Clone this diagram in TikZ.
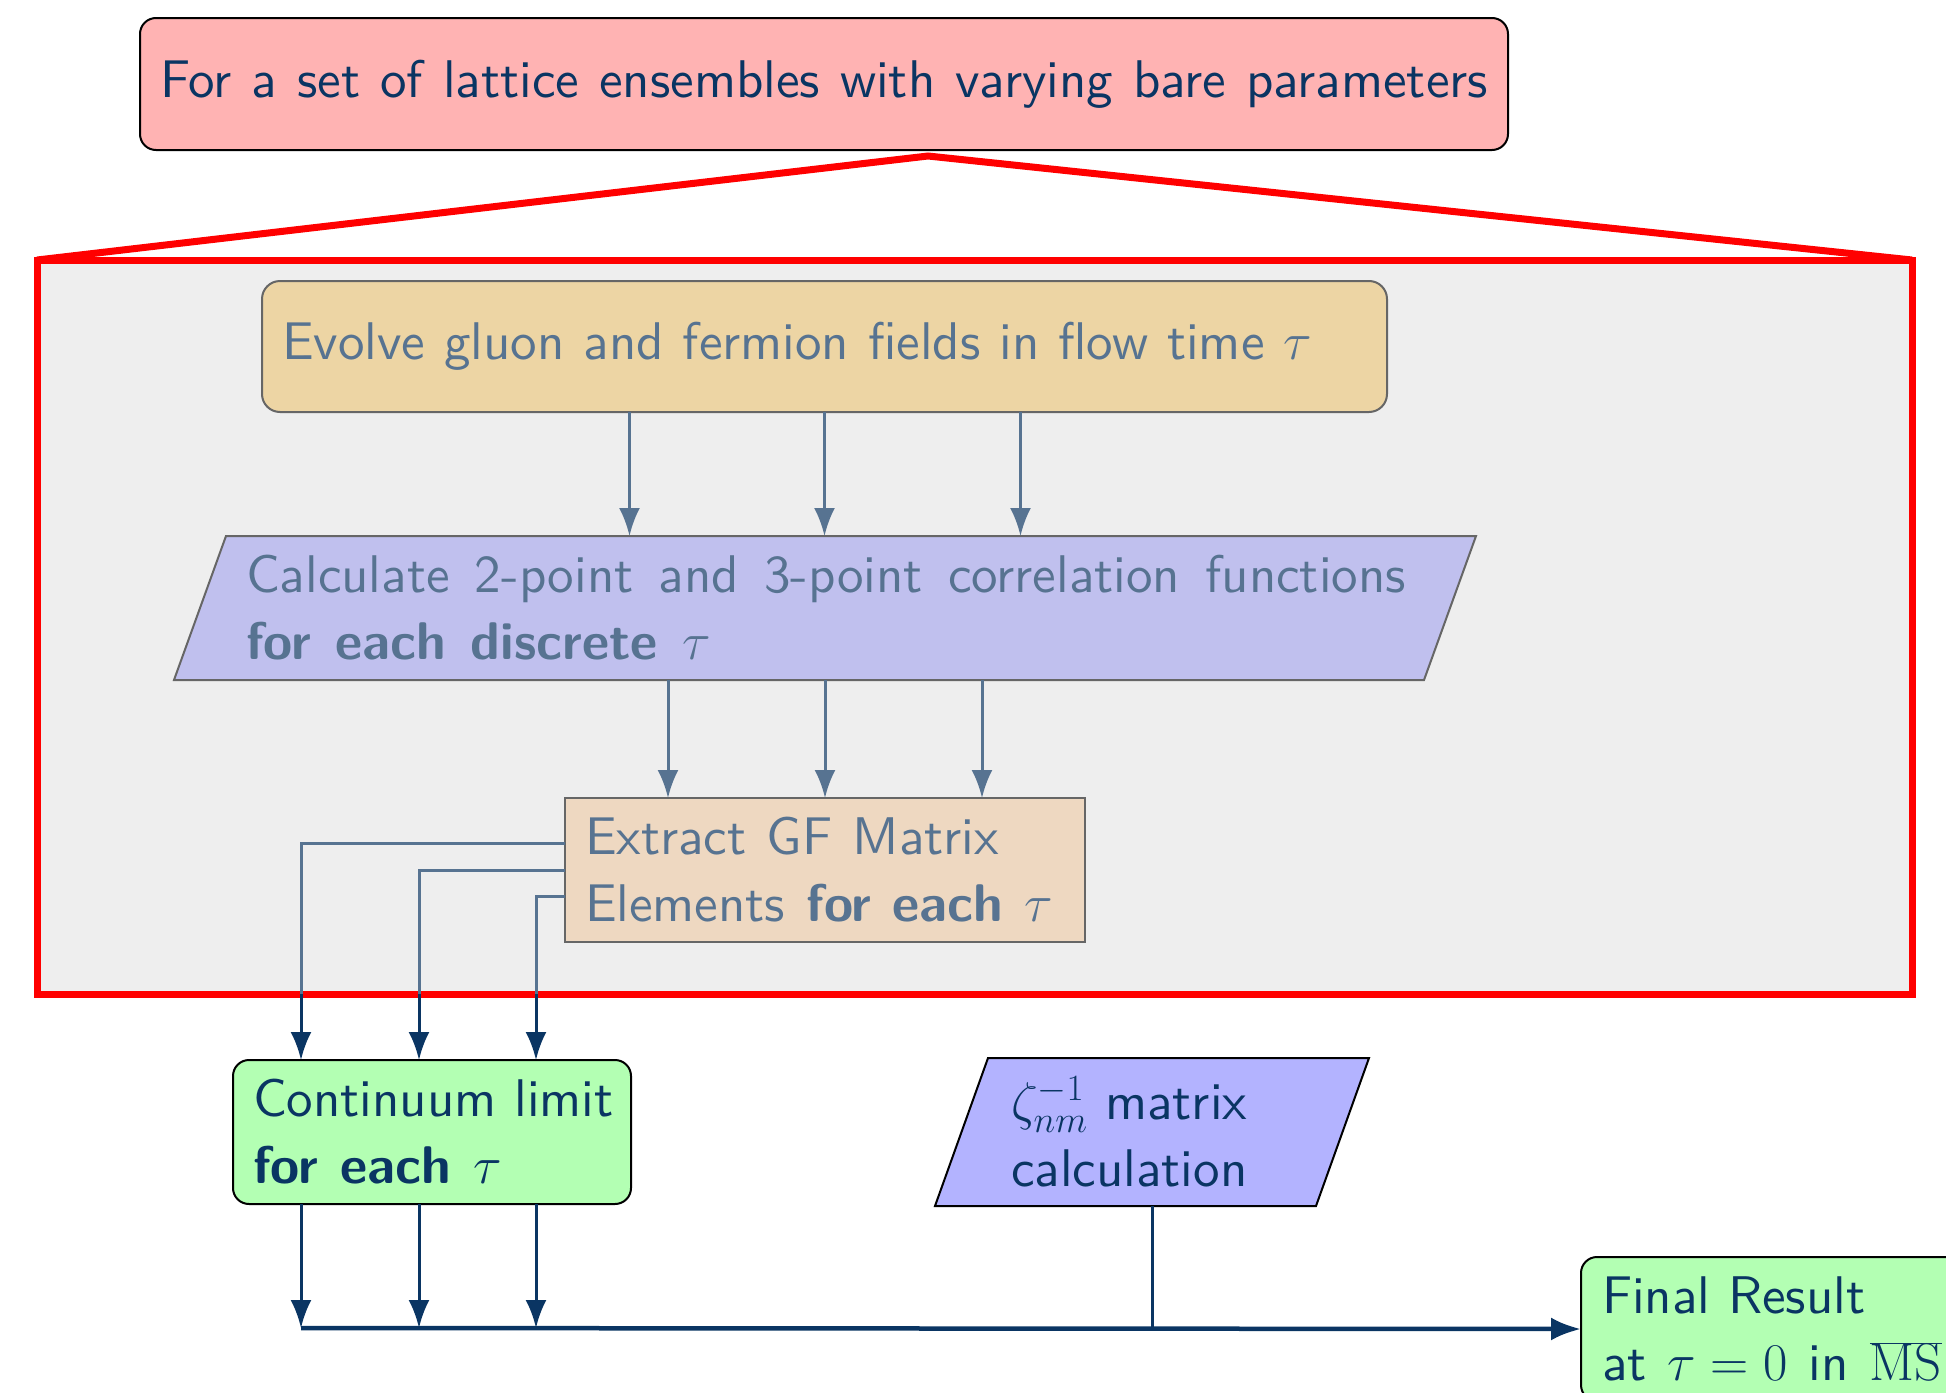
\RequirePackage{fix-cm}
\documentclass[tikz,border=0pt]{standalone}
\usetikzlibrary{arrows.meta,calc}
\DeclareFontFamily{TU}{mylmss}{}
\DeclareFontShape{TU}{mylmss}{m}{n}{<-> "[lmsans10-regular]:mapping=tex-text"}{}
\DeclareFontShape{TU}{mylmss}{bx}{n}{<-> "[lmsans10-bold]:mapping=tex-text"}{}
\DeclareFontShape{TU}{mylmss}{b}{n}{<-> ssub * mylmss/bx/n}{}
\definecolor{navy}{HTML}{0A3563}
\definecolor{slate}{HTML}{577391}
\definecolor{pinkfill}{HTML}{FFB3B3}
\definecolor{tanfill}{HTML}{EDD5A4}
\definecolor{lavfill}{HTML}{C0C0EE}
\definecolor{peachfill}{HTML}{EED8C1}
\definecolor{greenfill}{HTML}{B3FFB3}
\definecolor{zetafill}{HTML}{B3B3FF}
\definecolor{framefill}{HTML}{EEEEEE}
\definecolor{innerborder}{HTML}{666666}
\newcommand{\stretchline}[2]{\makebox[#1pt][s]{\spaceskip=0.333em plus 1fil\relax #2}}
\begin{document}
\begin{tikzpicture}[x=1pt,y=-1pt,
  txt/.style={font=\fontsize{53}{67}\fontfamily{mylmss}\selectfont},
  box/.style={txt, draw, line width=2pt, inner xsep=20pt, inner ysep=0pt,
    minimum height=144pt, anchor=north west, align=left, outer sep=0pt},
  innerbox/.style={box, draw=innerborder, text=slate},
  outerbox/.style={box, draw=black, text=navy},
  tip/.style={-{Latex[length=28pt,width=21pt]}},
  slarr/.style={draw=slate, line width=3pt},
  nvarr/.style={draw=navy, line width=3pt},
  redline/.style={draw=red, line width=7pt},
]
\useasboundingbox (0,0) rectangle (1946,1392);

% outer frame and roof
\node[draw=red, line width=7pt, fill=framefill, anchor=north west,
  minimum width=1875pt, minimum height=734pt, inner sep=0pt, outer sep=0pt] (frame) at (37,260) {};
\node[outerbox, fill=pinkfill, rounded corners=16pt, align=center,
  minimum width=1368pt, minimum height=132pt] (top) at (140,18)
  {\stretchline{1328}{For a set of lattice ensembles with varying bare parameters}};
\coordinate (apex) at (928,156);
\draw[redline, line join=miter] (frame.north west) -- (apex) -- (frame.north east);

% inner chain
\node[innerbox, fill=tanfill, rounded corners=18pt, minimum height=131pt,
  text width=1085pt] (evolve) at (262,281) {\stretchline{1030}{Evolve gluon and fermion fields in flow time $\tau$}};

\fill[lavfill, draw=innerborder, line width=2pt]
  (226,536) -- (1476,536) -- (1424,680) -- (174,680) -- cycle;
\node[txt, text=slate, anchor=west, inner xsep=20pt, inner ysep=0pt,
  minimum height=144pt, align=left, outer sep=0pt] (calc) at (226,608)
  {\stretchline{1160}{Calculate 2-point and 3-point correlation functions}\\\stretchline{465}{\textbf{for each discrete} $\tau$}};

\node[innerbox, fill=peachfill, minimum width=520pt, text width=480pt] (extract) at (565,798)
  {\stretchline{414}{Extract GF Matrix}\\\stretchline{468}{Elements \textbf{for each} $\tau$}};

\foreach \dx in {-195,0,196}
  \draw[slarr, tip] ($(evolve.south)+(\dx,0)$) -- ($(evolve.south|-calc.north)+(\dx,0)$);
\foreach \dx in {-157,0,157}
  \draw[slarr, tip] ($(extract.north|-calc.south)+(\dx,0)$) -- ($(extract.north)+(\dx,0)$);

% lower nodes
\node[outerbox, fill=greenfill, rounded corners=16pt, minimum width=398pt, text width=358pt] (cont) at (233,1060)
  {\mbox{Continuum limit}\\\stretchline{249}{\textbf{for each} $\tau$}};

\fill[zetafill, draw=black, line width=2pt]
  (988,1058) -- (1369,1058) -- (1316,1206) -- (935,1206) -- cycle;
\node[txt, text=navy, anchor=west, inner xsep=23pt, inner ysep=0pt,
  minimum height=148pt, align=left, outer sep=0pt] (zeta) at (988,1132)
  {\mbox{$\zeta^{-1}_{nm}$ matrix}\\\mbox{calculation}};

\node[outerbox, fill=greenfill, rounded corners=16pt, inner xsep=21pt] (final) at (1581,1257)
  {\mbox{Final Result}\\\stretchline{340}{at $\tau=0$ in $\overline{\mathrm{MS}}$}};

% extract -> continuum
\foreach \dy/\x in {-27/301, 0/419, 26/536} {
  \coordinate (c\x) at (\x,994);
  \draw[slarr] ($(extract.west)+(0,\dy)$) -| (c\x);
  \draw[nvarr, tip] (c\x) -- (c\x|-cont.north);
}

% continuum -> bus
\coordinate (bus) at (301,1328);
\foreach \x in {301,419,536}
  \draw[nvarr, tip] (c\x|-cont.south) -- (c\x|-bus);
\draw[nvarr] ($(zeta.south west)+(164,0)$) -- ($(zeta.south west|-bus)+(164,0)$);
\draw[draw=navy, line width=4.5pt, -{Latex[length=30pt,width=23pt]}] (bus) -- (final.west);
\end{tikzpicture}
\end{document}
